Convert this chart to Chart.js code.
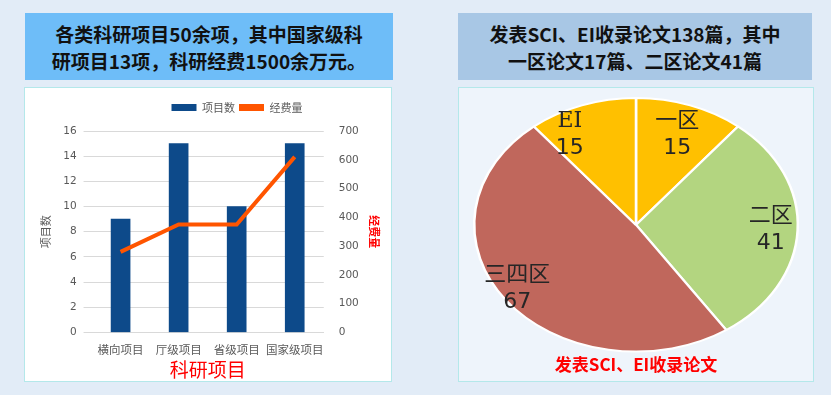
<!DOCTYPE html>
<html>
<head>
<meta charset="utf-8">
<script src="https://cdn.jsdelivr.net/npm/chart.js@4"></script>
<style>
  body { margin: 0; width: 831px; height: 395px; background: #e2ecf7; position: relative; overflow: hidden;
         font-family: "Noto Sans CJK SC", "DejaVu Sans", sans-serif; }
  .head { position: absolute; top: 13px; height: 67px; font-weight: bold; font-size: 19px; line-height: 27px;
          color: #111; text-align: center; padding-top: 7px; box-sizing: border-box; }
  #h1 { left: 25px; width: 368px; background: #6ebdf8; }
  #h2 { left: 458px; width: 354px; background: #a8c7e5; }
  .panel { position: absolute; top: 87px; height: 295px; box-sizing: border-box; border: 1px solid #b4e8ea; }
  #p1 { left: 24px; width: 368px; background: #fff; }
  #p2 { left: 458px; width: 356px; background: #eef4fb; }
  canvas { position: absolute; left: 0; top: 0; }
</style>
</head>
<body>
<div class="head" id="h1">各类科研项目50余项，其中国家级科<br>研项目13项，科研经费1500余万元。</div>
<div class="head" id="h2">发表SCI、EI收录论文138篇，其中<br>一区论文17篇、二区论文41篇</div>
<div class="panel" id="p1"><canvas id="myChart" width="366" height="293"></canvas></div>
<div class="panel" id="p2"><canvas id="myChart2" width="354" height="293"></canvas></div>
<script>
// 科研项目 data
const categories = ['横向项目', '厅级项目', '省级项目', '国家级项目'];
const projectCounts = [9, 15, 10, 15];
const funding = [280, 375, 375, 610];

// 论文 data
const paperLabels = ['一区', '二区', '三四区', 'EI'];
const paperCounts = [15, 41, 67, 15];
const paperColors = ['#ffc000', '#b3d580', '#c0675c', '#ffc000'];

// Bar + line chart
const ctx = document.getElementById('myChart').getContext('2d');
const shiftLegend = {
    id: 'shiftLegend',
    afterLayout(chart) {
        chart.legend.left += 28;
        chart.legend.right += 28;
        chart.legend.top -= 8;
        chart.legend.bottom -= 8;
    }
};
const myChart = new Chart(ctx, {
    data: {
        labels: categories,
        datasets: [{
            type: 'bar',
            label: '项目数',
            data: projectCounts,
            backgroundColor: '#0d4a8a',
            barThickness: 19,
            yAxisID: 'y',
            order: 2
        }, {
            type: 'line',
            label: '经费量',
            data: funding,
            borderColor: '#ff5500',
            backgroundColor: '#ff5500',
            borderWidth: 4,
            pointRadius: 0,
            tension: 0,
            yAxisID: 'y1',
            order: 1
        }]
    },
    options: {
        responsive: false,
        animation: false,
        layout: { padding: { top: 18, left: 10, right: 8, bottom: 0 } },
        plugins: {
            tooltip: { enabled: false },
            legend: {
                labels: {
                    boxWidth: 25,
                    boxHeight: 7,
                    padding: 4,
                    color: '#595959',
                    font: { size: 11, family: 'Noto Sans CJK SC' },
                    sort: (a, b) => a.datasetIndex - b.datasetIndex,
                    generateLabels(chart) {
                        const items = Chart.defaults.plugins.legend.labels.generateLabels(chart);
                        items.forEach(it => { it.lineWidth = 0; });
                        return items;
                    }
                }
            }
        },
        scales: {
            x: {
                grid: { display: false },
                border: { color: '#d9d9d9' },
                ticks: { color: '#595959', font: { size: 11.5, family: 'Noto Sans CJK SC' }, padding: 2,
                         minRotation: 0, maxRotation: 0, autoSkip: false },
                title: { display: true, text: '科研项目', color: '#ff0000',
                         font: { size: 19, family: 'Noto Sans CJK SC' }, padding: { top: 0, bottom: 0 } }
            },
            y: {
                position: 'left',
                min: 0, max: 16,
                ticks: { stepSize: 2, color: '#595959', font: { size: 10.5, family: 'DejaVu Sans' }, padding: 7 },
                grid: { color: '#d9d9d9' },
                border: { display: false },
                title: { display: true, text: '项目数', color: '#595959',
                         font: { size: 11, family: 'Noto Sans CJK SC' }, padding: 4 }
            },
            y1: {
                position: 'right',
                min: 0, max: 700,
                ticks: { stepSize: 100, color: '#595959', font: { size: 10.5, family: 'DejaVu Sans' }, padding: 7 },
                grid: { drawOnChartArea: false, display: false },
                border: { display: false },
                title: { display: true, text: '经费量', color: '#ff0000',
                         font: { size: 11, family: 'Noto Sans CJK SC', weight: 'bold' }, padding: 2 }
            }
        }
    },
    plugins: [shiftLegend]
});

// Pie chart, stretched into an ellipse
const stretchX = 1.276;
const labelShift = [[0, 0], [12, 0], [-20, 6], [-25, 0]];
const ellipse = {
    id: 'ellipse',
    beforeDatasetsDraw(chart) {
        const a = chart.chartArea;
        const cx = (a.left + a.right) / 2, cy = (a.top + a.bottom) / 2;
        chart.ctx.save();
        chart.ctx.translate(cx, cy);
        chart.ctx.scale(stretchX, 1);
        chart.ctx.translate(-cx, -cy);
    },
    afterDatasetsDraw(chart) {
        chart.ctx.restore();
        const c = chart.ctx;
        const meta = chart.getDatasetMeta(0);
        meta.data.forEach((arc, i) => {
            const mid = (arc.startAngle + arc.endAngle) / 2;
            const r = arc.outerRadius * 0.76;
            const x = arc.x + Math.cos(mid) * r * stretchX + labelShift[i][0];
            const y = arc.y + Math.sin(mid) * r + labelShift[i][1];
            c.save();
            c.fillStyle = '#262626';
            c.textAlign = 'center';
            c.textBaseline = 'middle';
            c.font = '22px "DejaVu Serif", "Noto Sans CJK SC"';
            c.fillText(paperLabels[i], x, y - 13);
            c.font = '22px "DejaVu Sans"';
            c.fillText(String(paperCounts[i]), x, y + 14);
            c.restore();
        });
    }
};
const ctx2 = document.getElementById('myChart2').getContext('2d');
const myChart2 = new Chart(ctx2, {
    type: 'pie',
    data: {
        labels: paperLabels,
        datasets: [{
            data: paperCounts,
            backgroundColor: paperColors,
            borderColor: '#ffffff',
            borderWidth: 2
        }]
    },
    options: {
        responsive: false,
        animation: false,
        layout: { padding: { top: 9, left: 0, right: 0, bottom: 0 } },
        plugins: {
            legend: { display: false },
            tooltip: { enabled: false },
            title: {
                display: true,
                position: 'bottom',
                text: '发表SCI、EI收录论文',
                color: '#ff0000',
                font: { size: 17, weight: 'bold', family: 'Noto Sans CJK SC' },
                padding: { top: 2, bottom: 6 }
            }
        }
    },
    plugins: [ellipse]
});
</script>
</body>
</html>
